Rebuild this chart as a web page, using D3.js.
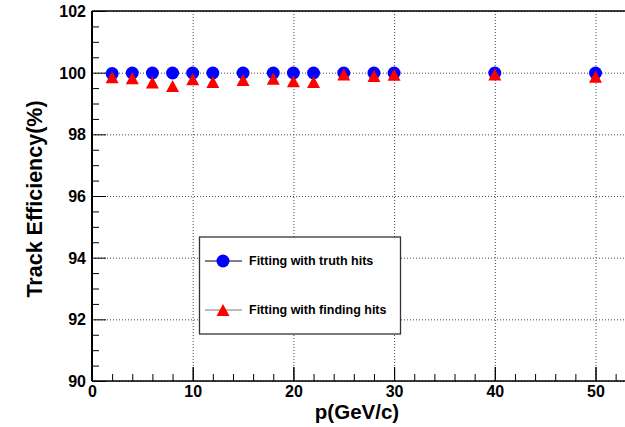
<!DOCTYPE html>
<html>
<head>
<meta charset="utf-8">
<script src="https://cdn.jsdelivr.net/npm/d3@7"></script>
<style>
  html, body { margin: 0; padding: 0; background: #fff; }
  svg { display: block; }
  text { font-family: "Liberation Sans", Arial, Helvetica, sans-serif; font-weight: bold; }
</style>
</head>
<body>
<svg id="chart" width="625" height="427"></svg>
<script>
// Momentum points (GeV/c)
const momentum = [2, 4, 6, 8, 10, 12, 15, 18, 20, 22, 25, 28, 30, 40, 50];
// Track efficiency (%) when fitting with the true hits
const truthEff = [99.97, 99.99, 99.99, 99.99, 99.99, 99.99, 99.99, 99.99, 99.99, 99.99, 99.99, 99.99, 99.99, 99.99, 99.99];
// Track efficiency (%) when fitting with hits from the track finder
const findingEff = [99.85, 99.82, 99.68, 99.57, 99.79, 99.70, 99.76, 99.80, 99.72, 99.70, 99.94, 99.89, 99.93, 99.94, 99.87];

const seriesNames = ["Fitting with truth hits", "Fitting with finding hits"];
const yTicks = [90, 92, 94, 96, 98, 100, 102];
const xTicks = [0, 10, 20, 30, 40, 50];

const svg = d3.select("#chart");
const padL = 92, padT = 11, padB = 381;

const x = d3.scaleLinear().domain([0, 55]).range([padL, padL + 55 * 10.07]);
const y = d3.scaleLinear().domain([90, 102]).range([padB, padT]);
const padR = x(55);

// dotted grid at major ticks
const grid = svg.append("g").attr("stroke", "#444").attr("stroke-width", 1)
  .attr("stroke-dasharray", "1,2");
grid.selectAll(".gx").data(xTicks).join("line")
  .attr("x1", d => x(d) + 0.5).attr("x2", d => x(d) + 0.5)
  .attr("y1", padT).attr("y2", padB);
grid.selectAll(".gy").data(yTicks).join("line")
  .attr("x1", padL).attr("x2", padR)
  .attr("y1", d => y(d) + 0.5).attr("y2", d => y(d) + 0.5);

// y axis with inward ticks
const yAxis = d3.axisLeft(y).tickValues(yTicks).tickSize(0).tickPadding(6);
const yg = svg.append("g").attr("transform", `translate(${padL},0)`).call(yAxis);
yg.select(".domain").remove();
yg.selectAll("text").attr("font-size", 16).attr("fill", "#000").attr("dy", "0.35em");
const yMinor = d3.range(90, 102.01, 0.5);
svg.append("g").selectAll("line").data(yMinor).join("line")
  .attr("x1", padL).attr("x2", d => padL + (Math.abs(d % 2) < 1e-6 ? 14 : 7))
  .attr("y1", d => y(d) + 0.5).attr("y2", d => y(d) + 0.5)
  .attr("stroke", "#000").attr("stroke-width", 1);

// x axis with inward ticks
const xAxis = d3.axisBottom(x).tickValues(xTicks).tickSize(0).tickPadding(5);
const xg = svg.append("g").attr("transform", `translate(0,${padB})`).call(xAxis);
xg.select(".domain").remove();
xg.selectAll("text").attr("font-size", 16).attr("fill", "#000").attr("dy", "0.71em");
const xMinor = d3.range(0, 55.01, 2).concat(xTicks);
svg.append("g").selectAll("line").data(xMinor).join("line")
  .attr("x1", d => x(d) + 0.5).attr("x2", d => x(d) + 0.5)
  .attr("y1", padB).attr("y2", d => padB - (d % 10 === 0 ? 14 : 7))
  .attr("stroke", "#000").attr("stroke-width", 1);

// frame
svg.append("line").attr("x1", padL).attr("x2", padL).attr("y1", padT).attr("y2", padB)
  .attr("stroke", "#000").attr("stroke-width", 2);
svg.append("line").attr("x1", padL).attr("x2", padR).attr("y1", padB).attr("y2", padB)
  .attr("stroke", "#000").attr("stroke-width", 1.5);
svg.append("line").attr("x1", padL).attr("x2", padR).attr("y1", padT).attr("y2", padT)
  .attr("stroke", "#000").attr("stroke-width", 1.5);

// markers: filled circle and an upward triangle centred on its vertical midpoint
const upTriangle = {
  draw(ctx) {
    const w = 6.5, h = 6;
    ctx.moveTo(0, -h); ctx.lineTo(w, h); ctx.lineTo(-w, h); ctx.closePath();
  }
};
const triangle = d3.symbol().type(upTriangle);
svg.append("g").selectAll("circle").data(momentum).join("circle")
  .attr("cx", (d) => x(d)).attr("cy", (d, i) => y(truthEff[i]))
  .attr("r", 6.5).attr("fill", "#0000ff");
svg.append("g").selectAll("path").data(momentum).join("path")
  .attr("d", triangle)
  .attr("transform", (d, i) => `translate(${x(d)},${y(findingEff[i])})`)
  .attr("fill", "#ff0000");

// axis titles
svg.append("text").attr("x", 357).attr("y", 419).attr("text-anchor", "middle")
  .attr("font-size", 20.5).text("p(GeV/c)");
svg.append("text").attr("transform", "translate(42,199) rotate(-90)")
  .attr("text-anchor", "middle").attr("font-size", 21.5).text("Track Efficiency(%)");

// legend
const lg = svg.append("g");
lg.append("rect").attr("x", 199.5).attr("y", 237).attr("width", 201).attr("height", 97)
  .attr("fill", "#fff").attr("stroke", "#333").attr("stroke-width", 1.3);
const rows = [
  { name: seriesNames[0], y: 261, line: "#000" },
  { name: seriesNames[1], y: 310, line: "#777" }
];
rows.forEach((r, i) => {
  lg.append("line").attr("x1", 205).attr("x2", 242).attr("y1", r.y).attr("y2", r.y)
    .attr("stroke", r.line).attr("stroke-width", 1);
  if (i === 0) {
    lg.append("circle").attr("cx", 223).attr("cy", r.y).attr("r", 6.5).attr("fill", "#0000ff");
  } else {
    lg.append("path").attr("d", triangle).attr("transform", `translate(223,${r.y})`).attr("fill", "#ff0000");
  }
  lg.append("text").attr("x", 249).attr("y", r.y).attr("dy", "0.35em")
    .attr("font-size", 12.5).text(r.name);
});
</script>
</body>
</html>
